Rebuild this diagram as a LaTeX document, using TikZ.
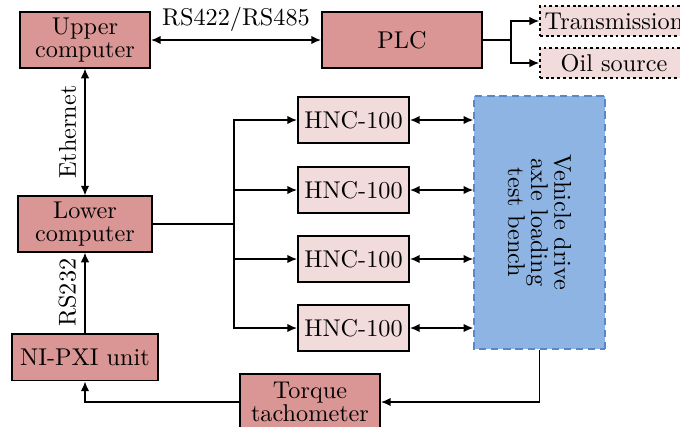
\documentclass[tikz,border=0pt]{standalone}
\usepackage{xcolor}
\usepackage{tikz}
\usetikzlibrary{arrows.meta, positioning, calc}
\definecolor{unitred}{RGB}{217,150,148}
\definecolor{unitpink}{RGB}{242,220,219}
\definecolor{benchblue}{RGB}{142,180,227}
\definecolor{benchedge}{RGB}{90,135,200}
\tikzset{
  unit/.style={rectangle, draw=black, fill=unitred, align=center,
    font=\fontsize{10pt}{9.5pt}\selectfont, thick, inner sep=2pt},
  hnc/.style={rectangle, draw=black, fill=unitpink, thick,
    minimum width=1.61cm, minimum height=0.67cm, inner sep=2pt},
  actuator/.style={rectangle, draw=black, fill=unitpink, semithick,
    dash pattern=on 1.2pt off 1.2pt, minimum width=2.15cm,
    minimum height=0.435cm, inner sep=2pt},
  bench/.style={rectangle, draw=benchedge, fill=benchblue, semithick,
    densely dashed, align=center, font=\fontsize{10pt}{9.5pt}\selectfont,
    minimum width=3.67cm, minimum height=1.90cm},
  link/.style={semithick, color=black},
  arrow/.style={-{Latex[length=4pt,width=3.5pt]}, semithick, color=black},
  biarrow/.style={{Latex[length=4pt,width=3.5pt]}-{Latex[length=4pt,width=3.5pt]}, semithick, color=black}
}
\begin{document}
\begin{tikzpicture}[x=0.0145cm, y=-0.0145cm]
  \useasboundingbox (0,0) rectangle (680,426);
  % units
  \node[unit, minimum width=1.885cm, minimum height=0.80cm] (upper) at (85,40) {Upper\\computer};
  \node[unit, minimum width=2.32cm, minimum height=0.80cm] (plc) at (402,40) {PLC};
  \node[unit, minimum width=1.943cm, minimum height=0.80cm] (lower) at (85,224) {Lower\\computer};
  \node[unit, minimum width=2.117cm, minimum height=0.68cm] (nipxi) at (85,357) {NI-PXI unit};
  \node[unit, minimum width=2.03cm, minimum height=0.80cm] (torque) at (310,402) {Torque\\tachometer};
  \node[actuator] (trans) at (614,21) {Transmission};
  \node[actuator] (oil) at (614,63) {Oil source};
  \node[bench, rotate=-90] (bench) at (539.5,222.5) {Vehicle drive\\axle loading\\test bench};
  \foreach \i/\y in {1/120,2/190,3/259,4/328}
    \node[hnc] (hnc\i) at (353.5,\y) {HNC-100};

  % connections
  \draw[biarrow] (upper) -- node[above] {RS422/RS485} (plc);
  \draw[link] (plc.east) -- ++(28,0) coordinate (split);
  \draw[arrow] (split) |- (trans.west);
  \draw[arrow] (split) |- (oil.west);
  \draw[biarrow] (lower) -- node[above, sloped] {Ethernet} (upper);
  \draw[arrow] (nipxi) -- node[above, sloped] {RS232} (lower);
  \draw[link] (lower.east) -- ++(81,0) coordinate (bus);
  \foreach \i in {1,...,4} {
    \draw[arrow] (bus) |- (hnc\i.west);
    \draw[biarrow] (hnc\i.east) -- (hnc\i.east -| bench.south);
  }
  % bench is turned, so its east anchor lies at the bottom
  \draw[arrow] (bench.east) |- (torque.east);
  \draw[arrow] (torque.west) -| (nipxi.south);
\end{tikzpicture}
\end{document}
